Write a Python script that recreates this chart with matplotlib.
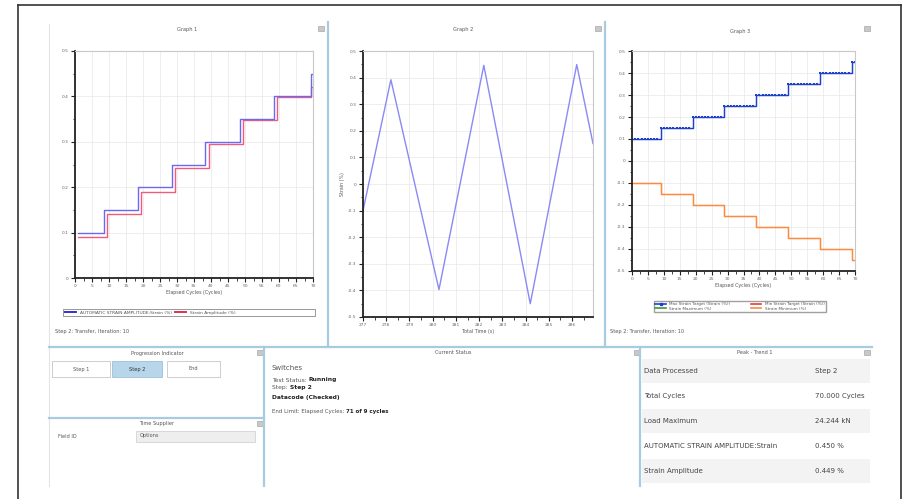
import numpy as np
import matplotlib
matplotlib.use("Agg")
import matplotlib.pyplot as plt
from matplotlib.patches import Rectangle
from matplotlib.lines import Line2D

W, H = 907, 499

# ------------------------------------------------------------
# Data
# ------------------------------------------------------------
# Graph 1: strain amplitude steps vs elapsed cycles
g1_auto_x = [1, 8.4, 18.4, 28.5, 38.3, 48.6, 58.5, 69.3, 70]
g1_auto_y = [0.100, 0.150, 0.200, 0.250, 0.300, 0.350, 0.400, 0.450, 0.450]
g1_amp_x = [1, 9.3, 19.3, 29.3, 39.3, 49.3, 59.3, 69.5, 70]
g1_amp_y = [0.091, 0.141, 0.190, 0.243, 0.296, 0.349, 0.398, 0.420, 0.420]

# Graph 2: strain vs total time (triangle wave)
g2_time = [277.0, 278.2, 280.27, 282.2, 284.2, 286.2, 286.9]
g2_strain = [-0.100, 0.392, -0.397, 0.446, -0.450, 0.449, 0.152]

# Graph 3: max / min strain target per cycle
g3_levels_max = [0.10, 0.15, 0.20, 0.25, 0.30, 0.35, 0.40, 0.45]
g3_levels_min = [-0.10, -0.15, -0.20, -0.25, -0.30, -0.35, -0.40, -0.45]
g3_cycles_per_step = [9, 10, 10, 10, 10, 10, 10, 2]

status_rows = [
    ("Data Processed", "Step 2"),
    ("Total Cycles", "70.000 Cycles"),
    ("Load Maximum", "24.244 kN"),
    ("AUTOMATIC STRAIN AMPLITUDE:Strain", "0.450 %"),
    ("Strain Amplitude", "0.449 %"),
]

# ------------------------------------------------------------
# Helpers (pixel coordinates, origin top-left)
# ------------------------------------------------------------
fig = plt.figure(figsize=(W / 100, H / 100), dpi=100)
fig.patch.set_facecolor("white")
renderer = fig.canvas.get_renderer()


def fx(x):
    return x / W


def fy(y):
    return 1 - y / H


def px_axes(x0, y0, x1, y1):
    return fig.add_axes([fx(x0), fy(y1), fx(x1) - fx(x0), fy(y0) - fy(y1)])


def ftext(x, y, s, **kw):
    kw.setdefault("fontsize", 3.6)
    kw.setdefault("color", "#555555")
    kw.setdefault("va", "center")
    return fig.text(fx(x), fy(y), s, **kw)


def frun(x, y, parts, fontsize=4.3):
    # draw (text, bold) pieces one after another on one line
    for s, bold in parts:
        t = ftext(x, y, s, fontsize=fontsize,
                  fontweight="bold" if bold else "normal",
                  color="#222222" if bold else "#555555")
        x += t.get_window_extent(renderer).width


def fline(x0, y0, x1, y1, color="#a8cbe0", lw=1.6):
    fig.add_artist(Line2D([fx(x0), fx(x1)], [fy(y0), fy(y1)], color=color, lw=lw))


def frect(x0, y0, x1, y1, fc="none", ec="#bbbbbb", lw=0.5):
    fig.add_artist(Rectangle((fx(x0), fy(y1)), fx(x1) - fx(x0), fy(y0) - fy(y1),
                             transform=fig.transFigure, fc=fc, ec=ec, lw=lw))


def icon(x, y):
    frect(x, y, x + 6, y + 5, fc="#c8c8c8", ec="#999999", lw=0.4)


def style_axes(ax, ymin, ymax, ystep, xmin, xmax, xstep, xminor, yminor):
    ax.set_xlim(xmin, xmax)
    ax.set_ylim(ymin, ymax)
    ax.set_xticks(np.arange(xmin, xmax + 1e-9, xstep))
    ax.set_yticks(np.arange(ymin, ymax + 1e-9, ystep))
    ax.set_xticks(np.arange(xmin, xmax + 1e-9, xminor), minor=True)
    ax.set_yticks(np.arange(ymin, ymax + 1e-9, yminor), minor=True)
    ax.grid(True, which="major", color="#e8e8e8", lw=0.5)
    for s in ["top", "right"]:
        ax.spines[s].set_color("#c8c8c8")
        ax.spines[s].set_linewidth(0.8)
    for s in ["left", "bottom"]:
        ax.spines[s].set_color("#222222")
        ax.spines[s].set_linewidth(1.3)
    ax.tick_params(which="major", length=3, width=0.8, color="#222222",
                   labelsize=3.2, labelcolor="#666666", pad=1.5)
    ax.tick_params(which="minor", length=1.8, width=0.6, color="#222222")


# ------------------------------------------------------------
# Frame and panels
# ------------------------------------------------------------
fline(18, 5, 901, 5, color="#333333", lw=1.2)
fline(18, 5, 18, 499, color="#333333", lw=1.2)
fline(901, 5, 901, 499, color="#333333", lw=1.2)
fline(49, 24, 49, 486, color="#e4e4e4", lw=0.8)

fline(328, 22, 328, 347)
fline(605, 22, 605, 347)
fline(49, 347, 872, 347)
fline(264, 347, 264, 486)
fline(640, 347, 640, 486)
fline(49, 418, 264, 418)

icon(318, 26)
icon(595, 26)
icon(864, 26)
icon(257, 350)
icon(257, 421)
icon(634, 350)
icon(864, 350)

# ------------------------------------------------------------
# Graph 1
# ------------------------------------------------------------
ftext(187, 30, "Graph 1", ha="center")
ax1 = px_axes(75, 51, 313, 278)
ax1.plot(g1_amp_x, g1_amp_y, drawstyle="steps-post", color="#f25a80", lw=1.0)
ax1.plot(g1_auto_x, g1_auto_y, drawstyle="steps-post", color="#6a6af0", lw=1.0)
style_axes(ax1, 0, 0.5, 0.1, 0, 70, 5, 2.5, 0.05)
ax1.set_yticklabels(["0", "0.1", "0.2", "0.3", "0.4", "0.5"])
ax1.set_xlabel("Elapsed Cycles (Cycles)", fontsize=3.4, color="#555555", labelpad=1)
frect(63, 309, 315, 316, fc="white", ec="#888888", lw=0.6)
h1 = [Line2D([], [], color="#3333cc", lw=1.4), Line2D([], [], color="#e03050", lw=1.4)]
fig.legend(h1, ["AUTOMATIC STRAIN AMPLITUDE:Strain (%)", "Strain Amplitude (%)"],
           loc="center left", ncol=2, bbox_to_anchor=(fx(63), fy(312.5)),
           bbox_transform=fig.transFigure, fontsize=3.2, frameon=False,
           borderpad=0.0, handlelength=2.5, columnspacing=0.8,
           labelcolor="#555555")
ftext(55, 332, "Step 2: Transfer, Iteration: 10")

# ------------------------------------------------------------
# Graph 2
# ------------------------------------------------------------
ftext(463, 30, "Graph 2", ha="center")
ax2 = px_axes(363, 51, 593, 317)
ax2.plot(g2_time, g2_strain, color="#8a8af5", lw=1.0)
style_axes(ax2, -0.5, 0.5, 0.1, 277, 286.9, 1, 0.5, 0.05)
ax2.set_xticks(np.arange(277, 287, 1))
ax2.set_xticklabels([str(t) for t in range(277, 287)])
ax2.set_yticklabels(["-0.5", "-0.4", "-0.3", "-0.2", "-0.1", "0",
                     "0.1", "0.2", "0.3", "0.4", "0.5"])
ax2.set_xlabel("Total Time (s)", fontsize=3.4, color="#555555", labelpad=1)
ax2.set_ylabel("Strain (%)", fontsize=3.4, color="#555555", labelpad=2)

# ------------------------------------------------------------
# Graph 3
# ------------------------------------------------------------
ftext(740, 31, "Graph 3", ha="center")
ax3 = px_axes(632, 51, 855, 271)
g3_cycle = np.arange(sum(g3_cycles_per_step))
g3_max = np.repeat(g3_levels_max, g3_cycles_per_step)
g3_min = np.repeat(g3_levels_min, g3_cycles_per_step)
ax3.plot(g3_cycle, g3_min, drawstyle="steps-post", color="#e04040", lw=0.8)
ax3.plot(g3_cycle, g3_min, drawstyle="steps-post", color="#ff8a3a", lw=1.0)
ax3.plot(g3_cycle, g3_max, drawstyle="steps-post", color="#3a9a3a", lw=0.8)
ax3.plot(g3_cycle, g3_max, drawstyle="steps-post", color="#1f3fcf", lw=1.0,
         marker="s", markersize=1.5, markeredgewidth=0)
style_axes(ax3, -0.5, 0.5, 0.1, 0, 70, 5, 2.5, 0.05)
ax3.set_yticklabels(["-0.5", "-0.4", "-0.3", "-0.2", "-0.1", "0",
                     "0.1", "0.2", "0.3", "0.4", "0.5"])
ax3.set_xlabel("Elapsed Cycles (Cycles)", fontsize=3.4, color="#555555", labelpad=1)
h3 = [Line2D([], [], color="#1f3fcf", lw=1.2, marker="s", markersize=2),
      Line2D([], [], color="#3a9a3a", lw=1.2),
      Line2D([], [], color="#e04040", lw=1.2),
      Line2D([], [], color="#ff8a3a", lw=1.2)]
fig.legend(h3, ["Max Strain Target (Strain (%))", "Strain Maximum (%)",
                "Min Strain Target (Strain (%))", "Strain Minimum (%)"],
           loc="center", ncol=2, mode="expand",
           bbox_to_anchor=(fx(652), fy(314), fx(828) - fx(652), fy(299) - fy(314)),
           bbox_transform=fig.transFigure, fontsize=3.0, frameon=True,
           fancybox=False, edgecolor="#888888", borderpad=0.3, labelspacing=0.2,
           handlelength=2.5, labelcolor="#555555")
ftext(610, 332, "Step 2: Transfer, Iteration: 10")

# ------------------------------------------------------------
# Progression Indicator / Time Supplier
# ------------------------------------------------------------
ftext(157, 353, "Progression Indicator", ha="center")
frect(52, 361, 110, 377, fc="white", ec="#bbbbbb")
frect(112, 361, 162, 377, fc="#b7d6ea", ec="#8fb8d5")
frect(167, 361, 220, 377, fc="white", ec="#bbbbbb")
ftext(81, 369, "Step 1", ha="center")
ftext(137, 369, "Step 2", ha="center", color="#333333")
ftext(193, 369, "End", ha="center")

ftext(157, 423, "Time Supplier", ha="center")
ftext(58, 436, "Field ID")
frect(136, 431, 255, 442, fc="#eeeeee", ec="#cccccc")
ftext(140, 436, "Options")

# ------------------------------------------------------------
# Current Status
# ------------------------------------------------------------
ftext(453, 352, "Current Status", ha="center")
ftext(272, 368, "Switches", fontsize=5.0)
frun(272, 380, [("Test Status: ", False), ("Running", True)])
frun(272, 387, [("Step: ", False), ("Step 2", True)])
frun(272, 398, [("Datacode (Checked)", True)])
frun(272, 411, [("End Limit: Elapsed Cycles: ", False), ("71 of 9 cycles", True)],
     fontsize=4.0)

# ------------------------------------------------------------
# Peak - Trend 1
# ------------------------------------------------------------
ftext(755, 353, "Peak - Trend 1", ha="center")
row_h = 25
for i, (label, value) in enumerate(status_rows):
    yc = 371 + i * row_h
    if i % 2 == 0:
        frect(642, yc - 12, 870, yc + 12, fc="#f3f3f3", ec="none")
    ftext(644, yc, label, fontsize=5.0, color="#444444")
    ftext(815, yc, value, fontsize=5.0, color="#444444", clip_on=False)

fig.savefig("out.png", dpi=100, facecolor="white")
